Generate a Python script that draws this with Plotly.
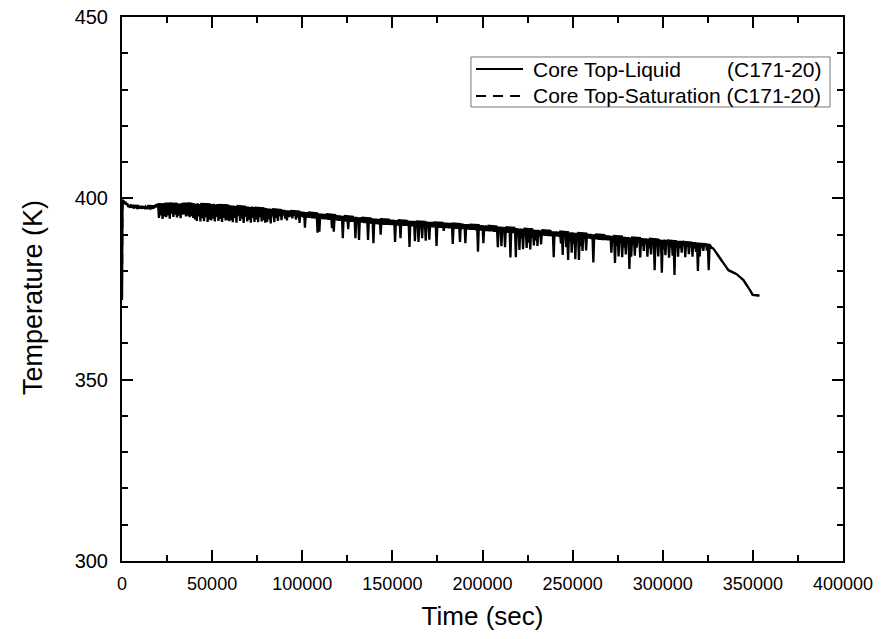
import plotly.graph_objects as go

# ---- data ----
# start of the transient
start_time = [0, 300]
start_temp = [372.0, 399.5]

# fast oscillation: one peak and one trough per 1000 s, from 1000 s to 326000 s
osc_step = 1000
osc_high = [
    # 1000 .. 19000
    399.2, 399.0, 398.6, 398.0, 398.3, 397.8, 398.1, 397.7, 397.9, 397.6,
    397.9, 397.6, 397.7, 397.6, 397.5, 397.7, 397.5, 398.0, 398.3,
    # 20000 .. 39000
    398.6, 398.7, 398.6, 398.7, 398.5, 398.7, 398.6, 398.8, 398.6, 398.7,
    398.8, 398.6, 398.5, 398.7, 398.6, 398.7, 398.6, 398.8, 398.6, 398.7,
    # 40000 .. 59000
    398.6, 398.5, 398.6, 398.4, 398.6, 398.5, 398.4, 398.6, 398.3, 398.5,
    398.4, 398.5, 398.3, 398.4, 398.3, 398.4, 398.2, 398.3, 398.2, 398.2,
    # 60000 .. 79000
    398.1, 398.0, 398.0, 397.9, 397.9, 397.8, 397.9, 397.7, 397.8, 397.7,
    397.7, 397.6, 397.7, 397.6, 397.5, 397.6, 397.5, 397.5, 397.4, 397.4,
    # 80000 .. 99000
    397.3, 397.2, 397.2, 397.1, 397.1, 397.0, 397.0, 396.9, 396.9, 396.8,
    396.8, 396.7, 396.7, 396.6, 396.6, 396.5, 396.5, 396.5, 396.4, 396.4,
    # 100000 .. 119000
    396.3, 396.3, 396.2, 396.2, 396.1, 396.1, 396.0, 396.0, 395.9, 395.9,
    395.8, 395.8, 395.7, 395.7, 395.6, 395.6, 395.5, 395.5, 395.4, 395.4,
    # 120000 .. 139000
    395.3, 395.3, 395.2, 395.2, 395.1, 395.1, 395.0, 395.0, 395.0, 394.9,
    394.9, 394.8, 394.8, 394.8, 394.7, 394.7, 394.6, 394.6, 394.5, 394.5,
    # 140000 .. 159000
    394.4, 394.4, 394.3, 394.3, 394.3, 394.2, 394.2, 394.2, 394.2, 394.1,
    394.1, 394.1, 394.0, 394.0, 394.0, 394.0, 393.9, 393.9, 393.9, 393.9,
    # 160000 .. 179000
    393.8, 393.8, 393.8, 393.7, 393.7, 393.7, 393.6, 393.6, 393.6, 393.6,
    393.5, 393.5, 393.5, 393.5, 393.4, 393.4, 393.4, 393.4, 393.3, 393.3,
    # 180000 .. 199000
    393.3, 393.2, 393.2, 393.2, 393.1, 393.1, 393.1, 393.0, 393.0, 393.0,
    392.9, 392.9, 392.9, 392.8, 392.8, 392.8, 392.7, 392.7, 392.7, 392.6,
    # 200000 .. 219000
    392.6, 392.5, 392.5, 392.4, 392.4, 392.4, 392.3, 392.3, 392.3, 392.2,
    392.2, 392.1, 392.1, 392.0, 392.0, 392.0, 391.9, 391.9, 391.8, 391.8,
    # 220000 .. 239000
    391.7, 391.7, 391.6, 391.6, 391.5, 391.5, 391.5, 391.4, 391.4, 391.3,
    391.3, 391.3, 391.2, 391.2, 391.1, 391.1, 391.0, 391.0, 391.0, 390.9,
    # 240000 .. 259000
    390.9, 390.9, 390.8, 390.8, 390.8, 390.7, 390.7, 390.7, 390.6, 390.6,
    390.6, 390.5, 390.5, 390.5, 390.4, 390.4, 390.4, 390.3, 390.3, 390.2,
    # 260000 .. 279000
    390.2, 390.1, 390.1, 390.0, 390.0, 390.0, 389.9, 389.9, 389.9, 389.8,
    389.8, 389.7, 389.7, 389.6, 389.6, 389.5, 389.5, 389.5, 389.4, 389.4,
    # 280000 .. 299000
    389.3, 389.3, 389.2, 389.2, 389.1, 389.1, 389.1, 389.0, 389.0, 389.0,
    388.9, 388.9, 388.9, 388.8, 388.8, 388.8, 388.7, 388.7, 388.7, 388.6,
    # 300000 .. 319000
    388.6, 388.6, 388.5, 388.5, 388.5, 388.4, 388.4, 388.4, 388.3, 388.3,
    388.3, 388.2, 388.2, 388.1, 388.1, 388.0, 388.0, 387.9, 387.9, 387.8,
    # 320000 .. 326000
    387.8, 387.7, 387.7, 387.6, 387.5, 387.4, 387.2,
]
osc_low = [
    # 1500 .. 19500
    398.4, 398.2, 397.6, 397.4, 397.5, 397.2, 397.4, 397.1, 397.4, 397.2,
    397.4, 397.3, 397.3, 397.3, 397.2, 397.3, 397.2, 397.5, 397.6,
    # 20500 .. 39500
    394.6, 395.3, 394.3, 395.0, 394.8, 395.3, 394.4, 395.8, 394.9, 395.5,
    394.7, 395.2, 394.5, 395.5, 395.6, 395.0, 395.2, 394.8, 395.1, 394.6,
    # 40500 .. 59500
    394.2, 393.8, 395.0, 393.6, 394.5, 393.7, 394.8, 393.5, 394.1, 393.9,
    394.4, 393.6, 394.9, 393.8, 394.3, 393.5, 394.6, 393.9, 394.0, 393.7,
    # 60500 .. 79500
    394.0, 393.4, 394.6, 393.3, 395.2, 393.8, 394.4, 393.2, 394.9, 393.6,
    394.1, 393.3, 394.7, 393.5, 394.2, 393.4, 394.8, 393.6, 394.0, 393.3,
    # 80500 .. 99500
    393.5, 394.2, 393.1, 395.0, 393.4, 394.6, 393.8, 395.1, 394.0, 395.3,
    394.4, 393.9, 394.8, 395.0, 394.5, 395.2, 394.1, 394.7, 393.2, 394.9,
    # 100500 .. 119500
    394.8, 391.9, 394.7, 394.6, 394.6, 394.5, 394.5, 394.4, 390.5, 390.8,
    394.3, 394.3, 394.2, 394.2, 394.1, 394.1, 391.8, 390.8, 394.0, 393.9,
    # 120500 .. 139500
    393.8, 393.8, 389.0, 393.7, 393.6, 391.5, 393.5, 393.5, 393.5, 389.0,
    393.4, 388.5, 393.3, 393.3, 393.2, 393.2, 388.5, 393.1, 393.0, 387.6,
    # 140500 .. 159500
    392.9, 392.9, 392.8, 390.0, 392.8, 392.7, 392.7, 392.7, 392.7, 392.6,
    392.6, 388.0, 392.5, 392.5, 389.0, 392.5, 392.4, 392.4, 392.4, 386.6,
    # 160500 .. 179500
    392.3, 392.3, 388.2, 392.2, 388.0, 392.2, 389.0, 392.1, 388.3, 392.1,
    388.6, 392.0, 392.0, 392.0, 386.9, 391.9, 391.9, 391.9, 391.0, 391.8,
    # 180500 .. 199500
    391.8, 391.7, 391.7, 387.4, 391.6, 391.6, 391.6, 388.0, 391.5, 391.5,
    387.6, 391.4, 391.4, 391.3, 391.3, 391.3, 391.2, 385.3, 391.2, 391.1,
    # 200500 .. 219500
    387.6, 391.0, 391.0, 390.9, 390.9, 390.9, 390.8, 390.8, 386.5, 390.7,
    386.8, 390.6, 386.5, 390.5, 390.5, 383.7, 390.4, 390.4, 383.8, 390.3,
    # 220500 .. 239500
    385.8, 388.9, 386.0, 389.6, 386.3, 387.8, 385.9, 389.2, 387.0, 388.4,
    386.9, 389.5, 387.3, 389.8, 389.7, 389.7, 389.6, 389.6, 389.5, 383.8,
    # 240500 .. 259500
    389.5, 389.5, 389.4, 387.6, 384.4, 389.3, 386.5, 383.0, 388.2, 385.0,
    387.4, 383.2, 388.6, 383.0, 386.8, 385.5, 388.9, 385.6, 389.0, 388.9,
    # 260500 .. 279500
    388.8, 382.3, 388.7, 388.7, 388.6, 388.6, 388.5, 388.5, 388.5, 388.4,
    388.4, 385.0, 387.8, 382.2, 386.9, 384.0, 388.1, 383.8, 386.5, 384.5,
    # 280500 .. 299500
    387.6, 380.5, 383.9, 387.2, 384.2, 386.4, 388.0, 383.7, 386.9, 385.5,
    387.8, 383.9, 386.2, 384.5, 387.5, 380.2, 386.8, 384.0, 387.4, 379.5,
    # 300500 .. 319500
    386.0, 384.3, 387.6, 383.6, 386.5, 384.2, 378.9, 387.1, 383.9, 386.3,
    385.0, 387.7, 383.8, 386.6, 384.6, 387.4, 383.9, 386.2, 385.2, 380.0,
    # 320500 .. 326500
    384.0, 386.5, 385.5, 387.0, 385.6, 380.2, 386.5,
]

# final cool-down (no oscillation)
tail_time = [328000, 330000, 333600, 336400, 341000, 344700, 348400, 349900, 353600]
tail_temp = [386.2, 384.8, 382.1, 380.2, 379.1, 377.5, 374.7, 373.4, 373.2]

# saturation temperature (smooth, lies under the liquid curve)
sat_time = [0, 300, 2000, 5000, 18000, 20000, 40000, 60000, 100000, 140000,
            200000, 250000, 300000, 326000,
            330000, 333600, 336400, 341000, 344700, 348400, 349900, 353600]
sat_temp = [372.0, 399.5, 399.0, 398.0, 397.9, 398.6, 398.6, 398.1, 396.3, 394.4,
            392.6, 390.6, 388.6, 387.2,
            384.8, 382.1, 380.2, 379.1, 377.5, 374.7, 373.4, 373.2]

x_ticks = [0, 50000, 100000, 150000, 200000, 250000, 300000, 350000, 400000]
y_ticks = [300, 350, 400, 450]

liquid_label = "Core Top-Liquid"
saturation_label = "Core Top-Saturation (C171-20)"
case_label = "(C171-20)"
x_title = "Time (sec)"
y_title = "Temperature (K)"

# assemble the liquid curve: peak at t, trough half a step later
liq_time = list(start_time)
liq_temp = list(start_temp)
for i, (hi, lo) in enumerate(zip(osc_high, osc_low)):
    t = osc_step * (i + 1)
    liq_time += [t, t + osc_step // 2]
    liq_temp += [hi, lo]
liq_time += tail_time
liq_temp += tail_temp

FONT = "Arial, Liberation Sans, sans-serif"

fig = go.Figure()
fig.add_trace(go.Scatter(
    x=sat_time, y=sat_temp, mode="lines",
    name=saturation_label,
    line=dict(color="black", width=2, dash="10px,8px"),
))
fig.add_trace(go.Scatter(
    x=liq_time, y=liq_temp, mode="lines",
    name=liquid_label + " " + case_label,
    line=dict(color="black", width=2.3),
))

axis_common = dict(
    showline=True, linecolor="black", linewidth=2, mirror="allticks",
    ticks="inside", tickcolor="black", tickwidth=1.6, ticklen=11,
    showgrid=False, zeroline=False, automargin=False,
    ticklabeloverflow="allow",
)

# ---- legend box drawn in paper coordinates (frame spans x 0..1, y 0..1) ----
LEG_X0, LEG_X1, LEG_Y0, LEG_Y1 = 0.484, 0.982, 0.8346, 0.9265
SAMPLE_X0, SAMPLE_X1 = 0.491, 0.5562
TEXT_X, CASE_X = 0.5673, 0.9736
ROW1_Y, ROW2_Y = 0.9044, 0.8548

shapes = [
    dict(type="rect", xref="paper", yref="paper", x0=LEG_X0, x1=LEG_X1, y0=LEG_Y0, y1=LEG_Y1,
         line=dict(color="#777777", width=1), fillcolor="white", layer="above"),
    dict(type="line", xref="paper", yref="paper", x0=SAMPLE_X0, x1=SAMPLE_X1, y0=ROW1_Y, y1=ROW1_Y,
         line=dict(color="black", width=2)),
    dict(type="line", xref="paper", yref="paper", x0=SAMPLE_X0, x1=SAMPLE_X1, y0=ROW2_Y, y1=ROW2_Y,
         line=dict(color="black", width=2, dash="10px,7px")),
]
leg_font = dict(family=FONT, size=21, color="black")
annotations = [
    dict(xref="paper", yref="paper", x=TEXT_X, y=ROW1_Y, text=liquid_label, showarrow=False,
         xanchor="left", yanchor="middle", font=leg_font),
    dict(xref="paper", yref="paper", x=CASE_X, y=ROW1_Y, text=case_label, showarrow=False,
         xanchor="right", yanchor="middle", font=leg_font),
    dict(xref="paper", yref="paper", x=TEXT_X, y=ROW2_Y, text=saturation_label, showarrow=False,
         xanchor="left", yanchor="middle", font=leg_font),
    # y-axis title, placed as in the reference (slightly below the frame centre)
    dict(xref="paper", yref="paper", x=-0.1234, y=0.4835, text=y_title, showarrow=False,
         textangle=-90, xanchor="center", yanchor="middle",
         font=dict(family=FONT, size=27, color="black")),
]

fig.update_layout(
    width=881, height=639,
    margin=dict(l=122, r=38, t=17, b=78),
    paper_bgcolor="white", plot_bgcolor="white",
    font=dict(family=FONT, color="black"),
    showlegend=False,
    shapes=shapes,
    annotations=annotations,
    xaxis=dict(
        range=[0, 400000], tickvals=x_ticks, ticktext=[str(v) for v in x_ticks],
        minor=dict(dtick=25000, tick0=0, ticks="inside", ticklen=6, tickwidth=1.6, tickcolor="black"),
        tickfont=dict(family=FONT, size=18, color="black"),
        ticklabelstandoff=5,
        title=dict(text=x_title, font=dict(family=FONT, size=26), standoff=14),
        **axis_common,
    ),
    yaxis=dict(
        range=[300, 450], tickvals=y_ticks, ticktext=[str(v) for v in y_ticks],
        minor=dict(dtick=10, tick0=300, ticks="inside", ticklen=6, tickwidth=1.6, tickcolor="black"),
        tickfont=dict(family=FONT, size=20, color="black"),
        ticklabelstandoff=8,
        **axis_common,
    ),
)

# remove the default 8 px page margin so the 881x639 figure fills the window
fig.write_html("out.html", config={"displayModeBar": False},
               post_script="document.body.style.margin='0px';")
